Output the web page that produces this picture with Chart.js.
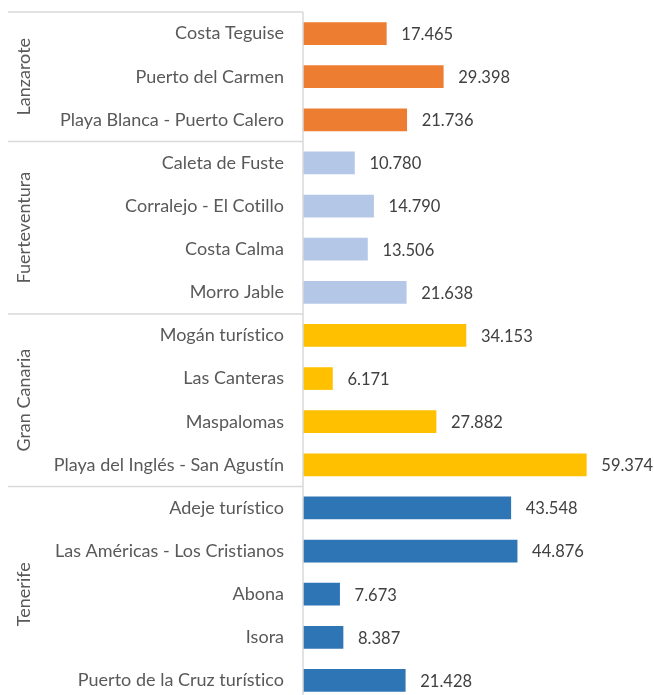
<!DOCTYPE html>
<html>
<head>
<meta charset="utf-8">
<script src="https://cdn.jsdelivr.net/npm/chart.js@4/dist/chart.umd.min.js"></script>
<style>
html,body{margin:0;padding:0;background:#fff;overflow:hidden;}
#wrap{position:relative;width:654px;height:702px;}
</style>
</head>
<body>
<div id="wrap"><canvas id="c"></canvas></div>
<script>
const categories = [
  "Costa Teguise","Puerto del Carmen","Playa Blanca - Puerto Calero",
  "Caleta de Fuste","Corralejo - El Cotillo","Costa Calma","Morro Jable",
  "Mogán turístico","Las Canteras","Maspalomas","Playa del Inglés - San Agustín",
  "Adeje turístico","Las Américas - Los Cristianos","Abona","Isora","Puerto de la Cruz turístico"
];
const values = [17465,29398,21736,10780,14790,13506,21638,34153,6171,27882,59374,43548,44876,7673,8387,21428];
const islandOfCategory = [
  "Lanzarote","Lanzarote","Lanzarote",
  "Fuerteventura","Fuerteventura","Fuerteventura","Fuerteventura",
  "Gran Canaria","Gran Canaria","Gran Canaria","Gran Canaria",
  "Tenerife","Tenerife","Tenerife","Tenerife","Tenerife"
];
const islandNames = ["Lanzarote","Fuerteventura","Gran Canaria","Tenerife"];
const islandColors = ["#ED7D31","#B4C7E7","#FFC000","#2E75B6"];

const FONT = "Lato, 'Open Sans', sans-serif";
const FS = 18;
const VFS = 16.5;

function fmt(v){
  return String(v).replace(/\B(?=(\d{3})+(?!\d))/g, ".");
}

const barColors = islandOfCategory.map(i => islandColors[islandNames.indexOf(i)]);

const noLigPlugin = {
  id: 'noLig',
  beforeDraw(chart){
    try { chart.ctx.letterSpacing = "0.01px"; } catch(e) {}
  }
};

const groupPlugin = {
  id: 'groups',
  afterDraw(chart){
    const ctx = chart.ctx;
    const y = chart.scales.y;
    const area = chart.chartArea;
    const half = (y.getPixelForValue(1) - y.getPixelForValue(0)) / 2;
    ctx.save();
    ctx.strokeStyle = "#D9D9D9";
    ctx.lineWidth = 1.5;
    ctx.beginPath();
    ctx.moveTo(area.left, area.top);
    ctx.lineTo(area.left, area.bottom + 2);
    ctx.stroke();
    islandNames.forEach(name => {
      const first = islandOfCategory.indexOf(name);
      const last = islandOfCategory.lastIndexOf(name);
      const top = y.getPixelForValue(first) - half;
      const bot = y.getPixelForValue(last) + half;
      ctx.strokeStyle = "#D9D9D9";
      ctx.lineWidth = 1.5;
      ctx.beginPath();
      ctx.moveTo(8, top);
      ctx.lineTo(area.left, top);
      ctx.stroke();
      ctx.save();
      ctx.translate(24, (top + bot) / 2);
      ctx.rotate(-Math.PI / 2);
      ctx.fillStyle = "#595959";
      ctx.font = FS + "px " + FONT;
      ctx.textAlign = "center";
      ctx.textBaseline = "middle";
      ctx.fillText(name, 0, 0);
      ctx.restore();
    });
    const meta = chart.getDatasetMeta(0);
    ctx.fillStyle = "#404040";
    ctx.font = VFS + "px " + FONT;
    ctx.textAlign = "left";
    ctx.textBaseline = "middle";
    meta.data.forEach((bar, i) => {
      ctx.fillText(fmt(values[i]), bar.x + 15, bar.y + 1);
    });
    ctx.restore();
  }
};

new Chart(document.getElementById('c'), {
  type: 'bar',
  data: {
    labels: categories,
    datasets: [{
      data: values,
      backgroundColor: barColors,
      borderWidth: 0,
      barThickness: 22
    }]
  },
  options: {
    indexAxis: 'y',
    responsive: true,
    maintainAspectRatio: false,
    animation: false,
    layout: { padding: { left: 0, right: 17, top: 12, bottom: 0 } },
    plugins: { legend: { display: false }, tooltip: { enabled: false } },
    scales: {
      x: { display: false, min: 0, max: 70000 },
      y: {
        grid: { display: false, drawTicks: false },
        border: { display: false },
        ticks: { color: "#595959", font: { family: FONT, size: FS }, padding: 19, autoSkip: false },
        afterFit(scale){ scale.width = 303; scale.paddingTop = 0; scale.paddingBottom = 0; }
      }
    }
  },
  plugins: [noLigPlugin, groupPlugin]
});
</script>
</body>
</html>
